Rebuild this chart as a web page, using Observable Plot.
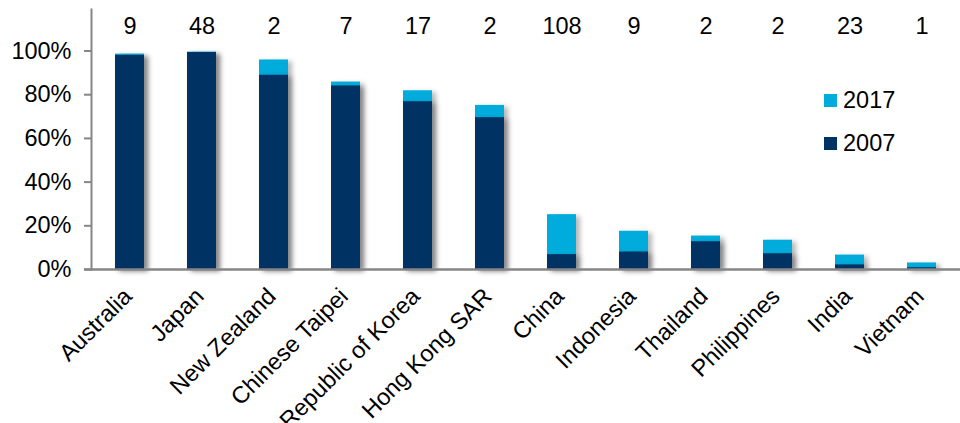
<!DOCTYPE html>
<html>
<head>
<meta charset="utf-8">
<script src="https://cdn.jsdelivr.net/npm/d3@7"></script>
<script src="https://cdn.jsdelivr.net/npm/@observablehq/plot@0.6"></script>
<style>
  html, body { margin: 0; padding: 0; background: #fff; }
  #wrap { position: relative; width: 960px; height: 423px; font-family: "Liberation Sans", Arial, sans-serif; }
  #wrap svg g[aria-label="bar"] { filter: drop-shadow(4px 2px 2.5px rgba(0,0,0,0.28)); }
  .legend { position: absolute; left: 824px; top: 79px; font-size: 23.5px; color: #000; }
  .legend .row { display: flex; align-items: center; height: 43px; }
  .legend .sw { display: inline-block; width: 13px; height: 13px; margin-right: 6px; }
</style>
</head>
<body>
<div id="wrap"></div>
<script>
const countries = ["Australia","Japan","New Zealand","Chinese Taipei","Republic of Korea","Hong Kong SAR","China","Indonesia","Thailand","Philippines","India","Vietnam"];
const share2017 = [0.986, 0.995, 0.959, 0.858, 0.818, 0.751, 0.251, 0.175, 0.153, 0.134, 0.066, 0.030];
const share2007 = [0.980, 0.993, 0.889, 0.840, 0.768, 0.695, 0.068, 0.080, 0.127, 0.072, 0.021, 0.008];
const counts = ["9","48","2","7","17","2","108","9","2","2","23","1"];
const yTicks = [0, 0.2, 0.4, 0.6, 0.8, 1.0];
const seriesNames = ["2017", "2007"];
const seriesColors = ["#00ACDC", "#003263"];

const rows = countries.map((c, i) => ({country: c, v2017: share2017[i], v2007: share2007[i], n: counts[i]}));

const chart = Plot.plot({
  width: 960,
  height: 423,
  marginLeft: 91,
  marginRight: 0,
  marginTop: 9,
  marginBottom: 154,
  style: {fontFamily: "'Liberation Sans', Arial, sans-serif", fontSize: "23.5px", color: "#000", background: "#fff"},
  x: {domain: countries, paddingInner: 0.6, paddingOuter: 0.3, label: null},
  y: {domain: [0, 1.19], label: null},
  marks: [
    Plot.barY(rows, {x: "country", y: "v2017", fill: seriesColors[0]}),
    Plot.barY(rows, {x: "country", y: "v2007", fill: seriesColors[1]}),
    Plot.text(rows, {x: "country", y: () => 1.114, text: "n", fontSize: 23.5, fill: "#000"}),
    Plot.axisY({ticks: yTicks, tickFormat: d3.format(".0%"), tickSize: 7, tickPadding: 13, stroke: "#868686", strokeWidth: 2, fontSize: 23.5, fill: "#000", label: null}),
    Plot.frame({anchor: "left", stroke: "#868686", strokeWidth: 2}),
    Plot.ruleY([0], {stroke: "#868686", strokeWidth: 2.5, insetLeft: -7}),
    Plot.axisX({tickSize: 0, tickRotate: -45, tickPadding: 23, dx: -2, fontSize: 23.5, fill: "#000", label: null})
  ]
});
const wrap = document.getElementById("wrap");
wrap.appendChild(chart);
const legend = document.createElement("div");
legend.className = "legend";
seriesNames.forEach((s, i) => {
  const row = document.createElement("div");
  row.className = "row";
  const sw = document.createElement("span");
  sw.className = "sw";
  sw.style.background = seriesColors[i];
  row.appendChild(sw);
  row.appendChild(document.createTextNode(s));
  legend.appendChild(row);
});
wrap.appendChild(legend);
</script>
</body>
</html>
